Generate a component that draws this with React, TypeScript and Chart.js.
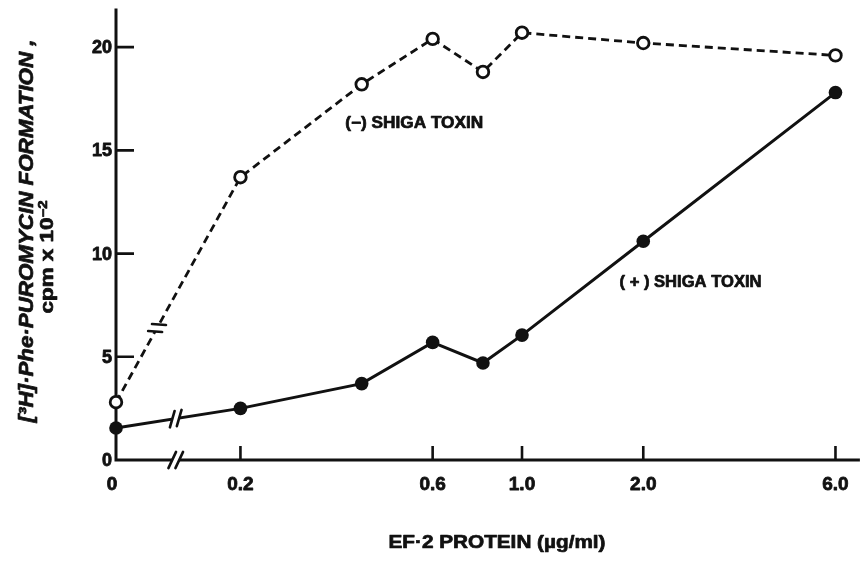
import React, { useEffect, useRef } from "react";
import { Chart, registerables } from "chart.js";

Chart.register(...registerables);

// ---- data ----
const doses = [0, 0.2, 0.4, 0.6, 0.8, 1.0, 2.0, 6.0]; // EF-2 protein, µg/ml
const withoutToxin = [2.8, 13.7, 18.2, 20.4, 18.8, 20.7, 20.2, 19.6]; // (−) Shiga toxin
const withToxin = [1.55, 2.5, 3.7, 5.7, 4.7, 6.05, 10.6, 17.8]; // (+) Shiga toxin
const xTickValues = [0, 0.2, 0.6, 1.0, 2.0, 6.0];
const xTickLabels = ["0", "0.2", "0.6", "1.0", "2.0", "6.0"];
const yTickValues = [0, 5, 10, 15, 20];
const yTickLabels = ["0", "5", "10", "15", "20"];

// broken log axis: dose 0 is drawn at the axis origin
const X_MIN = 0.0982;
const X_MAX = 6.84;
const Y_MAX = 21.8;

const INK = "#111";
const FONT = "'Liberation Sans', Arial, Helvetica, sans-serif";

const xOf = (d: number) => (d === 0 ? X_MIN : d);

type Seg = { text: string; size: number; style?: string; raise?: number };

function drawRich(
  ctx: CanvasRenderingContext2D,
  segs: Seg[],
  cx: number,
  cy: number,
  targetWidth: number,
  rotation = 0
) {
  ctx.save();
  let total = 0;
  const widths = segs.map((s) => {
    ctx.font = `${s.style || "bold"} ${s.size}px ${FONT}`;
    const w = ctx.measureText(s.text).width;
    total += w;
    return w;
  });
  const base = segs[0].size;
  ctx.translate(cx, cy);
  ctx.rotate(rotation);
  ctx.scale(targetWidth / total, 1);
  ctx.fillStyle = INK;
  ctx.strokeStyle = INK;
  ctx.lineWidth = 0.7;
  ctx.lineJoin = "round";
  ctx.textBaseline = "alphabetic";
  ctx.textAlign = "left";
  let x = -total / 2;
  segs.forEach((s, i) => {
    ctx.font = `${s.style || "bold"} ${s.size}px ${FONT}`;
    const yy = base * 0.36 - (s.raise || 0);
    ctx.fillText(s.text, x, yy);
    ctx.strokeText(s.text, x, yy);
    x += widths[i];
  });
  ctx.restore();
}

function boldText(ctx: CanvasRenderingContext2D, t: string, x: number, y: number) {
  ctx.fillText(t, x, y);
  ctx.strokeText(t, x, y);
}

function drawBreak(
  ctx: CanvasRenderingContext2D,
  px: number,
  py: number,
  ux: number,
  uy: number,
  len: number,
  gap: number,
  angleDeg: number,
  width: number
) {
  const th = (angleDeg * Math.PI) / 180;
  const sx = ux * Math.cos(th) + uy * Math.sin(th);
  const sy = -ux * Math.sin(th) + uy * Math.cos(th);
  const h = len / 2;
  const c1x = px - (ux * gap) / 2;
  const c1y = py - (uy * gap) / 2;
  const c2x = px + (ux * gap) / 2;
  const c2y = py + (uy * gap) / 2;
  ctx.save();
  ctx.fillStyle = "#fff";
  const e = 5;
  ctx.beginPath();
  ctx.moveTo(c1x - sx * e, c1y - sy * e);
  ctx.lineTo(c1x + sx * e, c1y + sy * e);
  ctx.lineTo(c2x + sx * e, c2y + sy * e);
  ctx.lineTo(c2x - sx * e, c2y - sy * e);
  ctx.closePath();
  ctx.fill();
  ctx.strokeStyle = INK;
  ctx.lineWidth = width;
  ctx.lineCap = "round";
  ctx.beginPath();
  ctx.moveTo(c1x - sx * h, c1y - sy * h);
  ctx.lineTo(c1x + sx * h, c1y + sy * h);
  ctx.moveTo(c2x - sx * h, c2y - sy * h);
  ctx.lineTo(c2x + sx * h, c2y + sy * h);
  ctx.stroke();
  ctx.restore();
}

const paperPlugin = {
  id: "paperAxes",
  beforeDatasetsDraw(chart: any) {
    const { ctx, chartArea: a, scales } = chart;
    const x = scales.x;
    const y = scales.y;
    ctx.save();
    ctx.strokeStyle = INK;
    ctx.lineWidth = 3;
    ctx.lineCap = "square";
    ctx.beginPath();
    ctx.moveTo(a.left, a.top);
    ctx.lineTo(a.left, a.bottom);
    ctx.lineTo(a.right, a.bottom);
    ctx.stroke();

    ctx.lineWidth = 2.6;
    ctx.lineCap = "butt";
    ctx.beginPath();
    yTickValues.forEach((v) => {
      if (v === 0) return;
      const py = y.getPixelForValue(v);
      ctx.moveTo(a.left, py);
      ctx.lineTo(a.left + 18, py);
    });
    xTickValues.forEach((v) => {
      if (v === 0) return;
      const px = x.getPixelForValue(v);
      ctx.moveTo(px, a.bottom);
      ctx.lineTo(px, a.bottom - 14);
    });
    ctx.stroke();

    // tick labels
    ctx.fillStyle = INK;
    ctx.strokeStyle = INK;
    ctx.lineWidth = 0.8;
    ctx.lineJoin = "round";
    ctx.font = `bold 18px ${FONT}`;
    ctx.textAlign = "right";
    ctx.textBaseline = "alphabetic";
    yTickValues.forEach((v, i) => {
      const py = y.getPixelForValue(v);
      boldText(ctx, yTickLabels[i], a.left - 4, py + 6);
    });
    ctx.font = `bold 19px ${FONT}`;
    ctx.textAlign = "center";
    xTickValues.forEach((v, i) => {
      const px = x.getPixelForValue(xOf(v)) - (v === 0 ? 4 : 0);
      boldText(ctx, xTickLabels[i], px, a.bottom + 30);
    });
    ctx.restore();

    // axis titles
    drawRich(ctx, [{ text: "EF·2 PROTEIN (µg/ml)", size: 18 }], 497, 542, 217);
    drawRich(
      ctx,
      [{ text: "[³H]·Phe·PUROMYCIN FORMATION ,", size: 20, style: "italic bold" }],
      26,
      231,
      383,
      -Math.PI / 2
    );
    drawRich(
      ctx,
      [
        { text: "cpm x 10", size: 18 },
        { text: "−2", size: 12, raise: 6 },
      ],
      47,
      257,
      113,
      -Math.PI / 2
    );
  },
  afterDatasetsDraw(chart: any) {
    const { ctx, chartArea: a, scales } = chart;
    const x = scales.x;
    const y = scales.y;
    // axis breaks between 0 and 0.2
    const solid = chart.getDatasetMeta(1).data;
    const dashed = chart.getDatasetMeta(0).data;
    const seg = (p0: any, p1: any, t: number) => {
      const dx = p1.x - p0.x;
      const dy = p1.y - p0.y;
      const L = Math.hypot(dx, dy);
      return { px: p0.x + dx * t, py: p0.y + dy * t, ux: dx / L, uy: dy / L };
    };
    const s = seg(solid[0], solid[1], 0.48);
    drawBreak(ctx, s.px, s.py, s.ux, s.uy, 17, 7, 65, 2.6);
    drawBreak(ctx, s.px, a.bottom, 1, 0, 18, 7, 65, 2.6);
    const d = seg(dashed[0], dashed[1], 0.33);
    drawBreak(ctx, d.px, d.py, d.ux, d.uy, 14, 8, -65, 2.6);

    // series labels
    drawRich(
      ctx,
      [{ text: "(−) SHIGA TOXIN", size: 16 }],
      x.getPixelForValue(0.54),
      y.getPixelForValue(16.37),
      138
    );
    drawRich(
      ctx,
      [{ text: "( + ) SHIGA TOXIN", size: 16 }],
      x.getPixelForValue(2.62),
      y.getPixelForValue(8.67),
      142
    );
  },
};

export default function App() {
  const ref = useRef<HTMLCanvasElement>(null);
  useEffect(() => {
    const canvas = ref.current;
    if (!canvas) return;
    const chart = new Chart(canvas, {
      type: "line",
      data: {
        datasets: [
          {
            label: "(−) Shiga toxin",
            data: doses.map((d, i) => ({ x: xOf(d), y: withoutToxin[i] })),
            borderColor: INK,
            borderWidth: 2.8,
            borderDash: [8, 5],
            pointRadius: 5.8,
            pointBorderWidth: 2.8,
            pointBackgroundColor: "#fff",
            pointBorderColor: INK,
            tension: 0,
            clip: false as any,
          },
          {
            label: "(+) Shiga toxin",
            data: doses.map((d, i) => ({ x: xOf(d), y: withToxin[i] })),
            borderColor: INK,
            borderWidth: 3,
            pointRadius: 6.8,
            pointBorderWidth: 0,
            pointBackgroundColor: INK,
            pointBorderColor: INK,
            tension: 0,
            clip: false as any,
          },
        ],
      },
      options: {
        responsive: false,
        devicePixelRatio: 1,
        animation: false,
        events: [],
        layout: { padding: { left: 116, right: 4, top: 10, bottom: 102 } },
        scales: {
          x: { type: "logarithmic", min: X_MIN, max: X_MAX, display: false },
          y: { type: "linear", min: 0, max: Y_MAX, display: false },
        },
        plugins: {
          legend: { display: false },
          tooltip: { enabled: false },
        },
      },
      plugins: [paperPlugin],
    });
    return () => chart.destroy();
  }, []);
  return (
    <div
      style={{
        position: "absolute",
        left: 0,
        top: 0,
        width: 867,
        height: 562,
        background: "#fff",
      }}
    >
      <canvas
        ref={ref}
        width={867}
        height={562}
        style={{ display: "block", width: 867, height: 562 }}
      />
    </div>
  );
}
